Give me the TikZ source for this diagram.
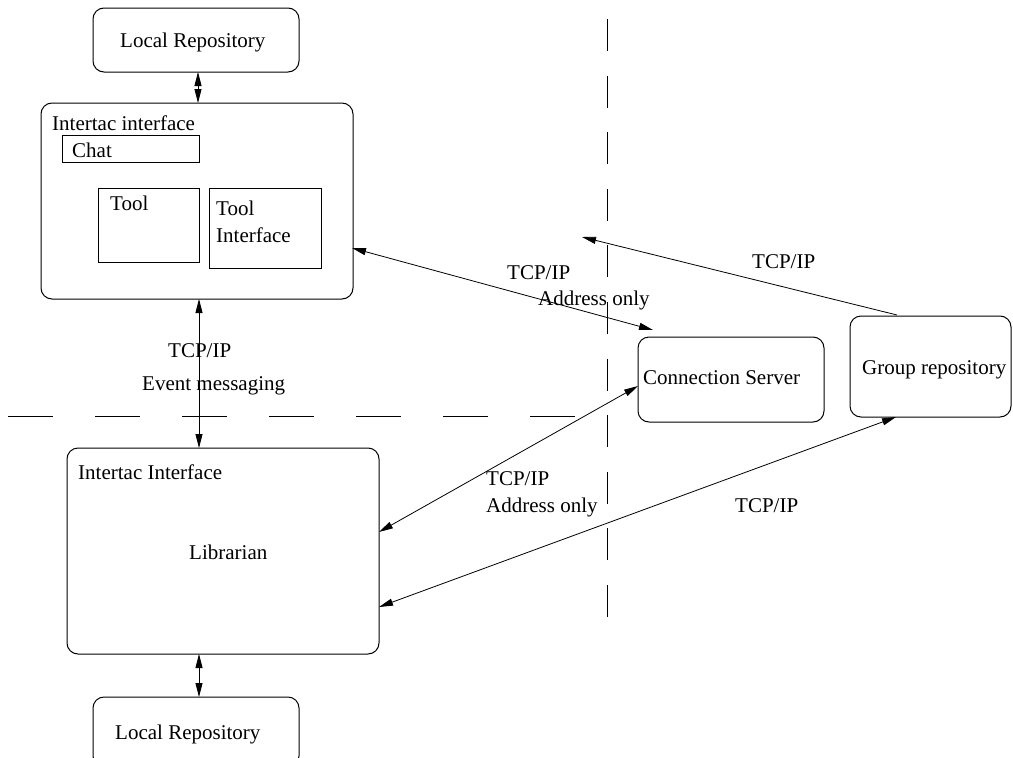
\documentclass[tikz,border=0pt]{standalone}
\usepackage{fontspec}
\setmainfont{Liberation Serif}
\usetikzlibrary{arrows.meta}
\begin{document}
\begin{tikzpicture}[x=1pt,y=-1pt,
  rbox/.style={draw, line width=1pt, rounded corners=11pt, inner sep=0pt},
  sbox/.style={draw, line width=0.9pt, inner sep=0pt},
  lbl/.style={anchor=base west, inner sep=0pt, font=\fontsize{21}{25}\selectfont},
  conn/.style={line width=0.8pt, {Triangle[length=14pt,width=7pt]}-{Triangle[length=14pt,width=7pt]}},
  conn1/.style={line width=0.8pt, {Triangle[length=14pt,width=7pt]}-},
  hdash/.style={line width=0.8pt, dash pattern=on 45pt off 42pt},
  vdash/.style={line width=0.8pt, dash pattern=on 32pt off 24.6pt}]
\useasboundingbox (0,0) rectangle (1013,758);

% boxes
\node[rbox, minimum width=206pt, minimum height=64pt] (lr1) at (196,40) {};
\node[rbox, minimum width=312pt, minimum height=196pt] (ii1) at (197,201) {};
\node[sbox, minimum width=137pt, minimum height=27pt] (chat) at (130.5,148.5) {};
\node[sbox, minimum width=101pt, minimum height=74pt] (tool) at (148.5,225) {};
\node[sbox, minimum width=112pt, minimum height=80pt] (ti) at (265,228) {};
\node[rbox, minimum width=312pt, minimum height=206pt] (ii2) at (223,551) {};
\node[rbox, minimum width=206pt, minimum height=70pt] (lr2) at (196,732) {};
\node[rbox, minimum width=186pt, minimum height=85pt] (cs) at (731,379.5) {};
\node[rbox, minimum width=161pt, minimum height=101pt] (gr) at (930.5,366.5) {};

% labels
\node[lbl] (t1) at (120,47) {Local Repository};
\node[lbl] (t2) at (52,130) {Intertac interface};
\node[lbl] (t3) at (72,157) {Chat};
\node[lbl] (t4) at (110,210) {Tool};
\node[lbl] (t5) at (216,215) {Tool};
\node[lbl] (t6) at (216,242) {Interface};
\node[lbl] (t7) at (507,279) {TCP/IP};
\node[lbl] (t8) at (538,305) {Address only};
\node[lbl] (t9) at (752,268) {TCP/IP};
\node[lbl] (t10) at (643,384) {Connection Server};
\node[lbl] (t11) at (862,374) {Group repository};
\node[lbl] (t12) at (168,357) {TCP/IP};
\node[lbl] (t13) at (142,390) {Event messaging};
\node[lbl] (t14) at (78,479) {Intertac Interface};
\node[lbl] (t15) at (189,559) {Librarian};
\node[lbl] (t16) at (115,739) {Local Repository};
\node[lbl] (t17) at (486,485) {TCP/IP};
\node[lbl] (t18) at (486,512) {Address only};
\node[lbl] (t19) at (735,512) {TCP/IP};

% separators
\coordinate (h1) at (8,416);
\coordinate (h2) at (580,416);
\coordinate (v1) at (607,19);
\coordinate (v2) at (607,617);
\draw[hdash] (h1) -- (h2);
\draw[vdash] (v1) -- (v2);

% connector end points
\coordinate (a1) at (198,72);
\coordinate (a2) at (198,103);
\coordinate (b1) at (199,299);
\coordinate (b2) at (199,448);
\coordinate (c1) at (199,654);
\coordinate (c2) at (199,697);
\coordinate (d1) at (352,248);
\coordinate (d2) at (653,330);
\coordinate (e1) at (897,315);
\coordinate (e2) at (582,237);
\coordinate (f1) at (638,386);
\coordinate (f2) at (379,532);
\coordinate (g1) at (896,417);
\coordinate (g2) at (379,607);

\draw[conn] (a1) -- (a2);
\draw[conn] (b1) -- (b2);
\draw[conn] (c1) -- (c2);
\draw[conn] (d1) -- (d2);
\draw[conn1] (e2) -- (e1);
\draw[conn] (f1) -- (f2);
\draw[conn] (g1) -- (g2);
\end{tikzpicture}
\end{document}
